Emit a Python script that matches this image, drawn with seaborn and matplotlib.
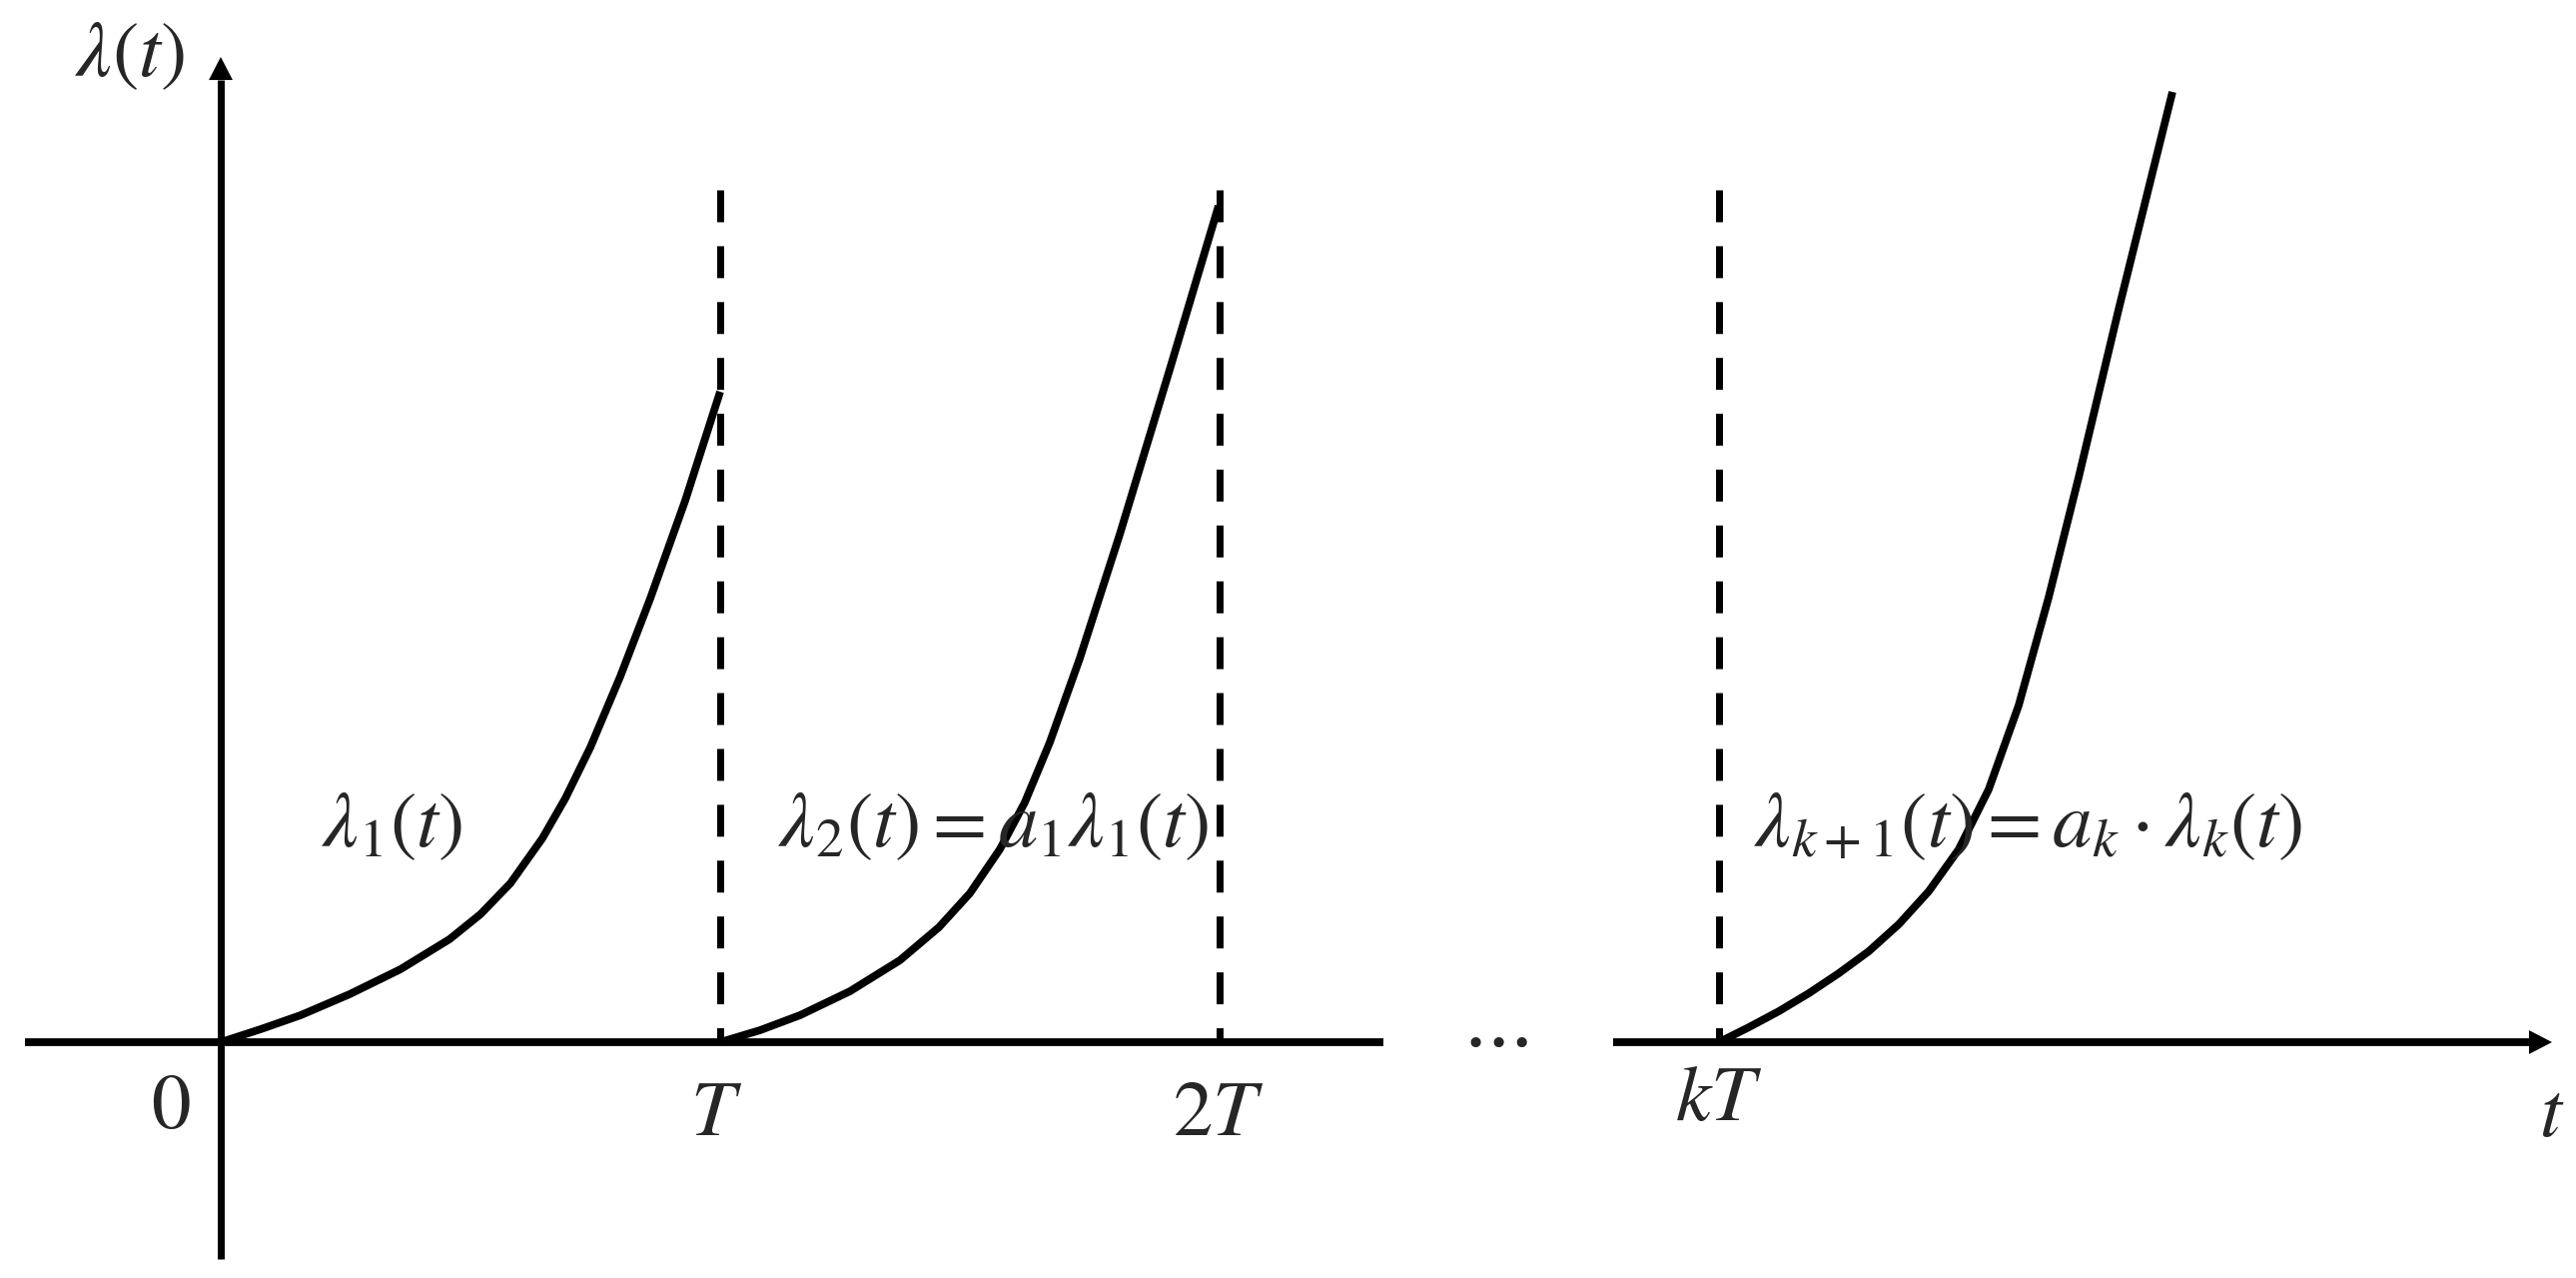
import matplotlib
matplotlib.use("Agg")
import matplotlib.pyplot as plt
import seaborn as sns

sns.set_theme(style="white")
plt.rcParams["mathtext.fontset"] = "stix"
plt.rcParams["font.family"] = ["Liberation Serif", "DejaVu Serif"]

# time axis in units of T; the k-th period is drawn at position 3 (axis is broken)
period_starts = [0.0, 1.0, 3.0]

# lambda_1(t) on [0, T]
curve1_t = [0.0, 0.08, 0.16, 0.258, 0.36, 0.458, 0.52, 0.58, 0.644, 0.69, 0.74, 0.8, 0.86, 0.93, 1.0]
curve1_y = [0.0, 0.026, 0.054, 0.096, 0.146, 0.206, 0.256, 0.318, 0.408, 0.488, 0.59, 0.732, 0.888, 1.084, 1.302]

# lambda_2(t) = a1 * lambda_1(t) on [T, 2T]
curve2_t = [0.0, 0.08, 0.16, 0.26, 0.36, 0.438, 0.5, 0.56, 0.61, 0.66, 0.72, 0.8, 0.9, 0.998]
curve2_y = [0.0, 0.024, 0.054, 0.102, 0.164, 0.23, 0.298, 0.386, 0.48, 0.6, 0.768, 1.016, 1.346, 1.674]

# lambda_{k+1}(t) from kT
curve3_t = [0.0, 0.06, 0.12, 0.18, 0.24, 0.3, 0.36, 0.42, 0.48, 0.54, 0.6, 0.66, 0.72, 0.8, 0.908]
curve3_y = [0.0, 0.03, 0.062, 0.098, 0.138, 0.182, 0.236, 0.302, 0.386, 0.506, 0.674, 0.89, 1.13, 1.466, 1.902]

boundaries = [1.0, 2.0, 3.0]
boundary_top = 1.706

tick_pos = [-0.1, 0.992, 1.998, 3.0]
tick_labels = [r"$0$", r"$T$", r"$2T$", r"$kT$"]
tick_y = [-0.134, -0.148, -0.148, -0.118]

curve_labels = [r"$\lambda_1(t)$", r"$\lambda_2(t)=a_1\lambda_1(t)$",
                r"$\lambda_{k+1}(t)=a_k\cdot\lambda_k(t)$"]
curve_label_x = [0.344, 1.548, 3.62]
curve_label_y = 0.43

FS = 57

fig = plt.figure(figsize=(25.79, 12.79), dpi=100)
ax = fig.add_axes([0, 0, 1, 1])
ax.set_xlim(-0.442, 4.716)
ax.set_ylim(-0.472, 2.086)
ax.axis("off")

lw_axis = 5.6
# horizontal axis, broken between 2T and kT
sns.lineplot(x=[-0.392, 2.328], y=[0, 0], ax=ax, color="black", lw=lw_axis, solid_capstyle="butt")
sns.lineplot(x=[2.788, 4.622], y=[0, 0], ax=ax, color="black", lw=lw_axis, solid_capstyle="butt")
# vertical axis
sns.lineplot(x=[0, 0], y=[-0.434, 1.926], ax=ax, color="black", lw=5.0, solid_capstyle="butt",
             orient="y", sort=False, estimator=None)

head = dict(arrowstyle="-|>,head_length=16.6,head_width=8.6", mutation_scale=1,
            lw=0, color="black", shrinkA=0, shrinkB=0)
ax.annotate("", xy=(4.668, 0), xytext=(4.5, 0), arrowprops=head)
ax.annotate("", xy=(0, 1.972), xytext=(0, 1.8), arrowprops=head)

# dashed period boundaries, drawn top-down so the dash pattern starts at the top
for b in boundaries:
    sns.lineplot(x=[b, b], y=[boundary_top, 0], ax=ax, color="black", lw=5.0,
                 sort=False, estimator=None, orient="y", dashes=False,
                 linestyle=(0, (4.6, 3.45)), solid_capstyle="butt", dash_capstyle="butt")

for start, ts, ys in zip(period_starts, [curve1_t, curve2_t, curve3_t], [curve1_y, curve2_y, curve3_y]):
    sns.lineplot(x=[start + t for t in ts], y=ys, ax=ax, color="black", lw=5.6,
                 sort=False, estimator=None, solid_joinstyle="round", solid_capstyle="butt")

for x, y, s in zip(tick_pos, tick_y, tick_labels):
    ax.text(x, y, s, fontsize=FS, ha="center", va="center")
ax.text(2.55, 0.0, r"$\cdots$", fontsize=FS, ha="center", va="center")
ax.text(4.668, -0.15, r"$t$", fontsize=FS, ha="center", va="center")
ax.text(-0.182, 1.972, r"$\lambda(t)$", fontsize=FS, ha="center", va="center")

for x, s in zip(curve_label_x, curve_labels):
    ax.text(x, curve_label_y, s, fontsize=FS, ha="center", va="center")

fig.savefig("out.png", dpi=100, facecolor="white")
